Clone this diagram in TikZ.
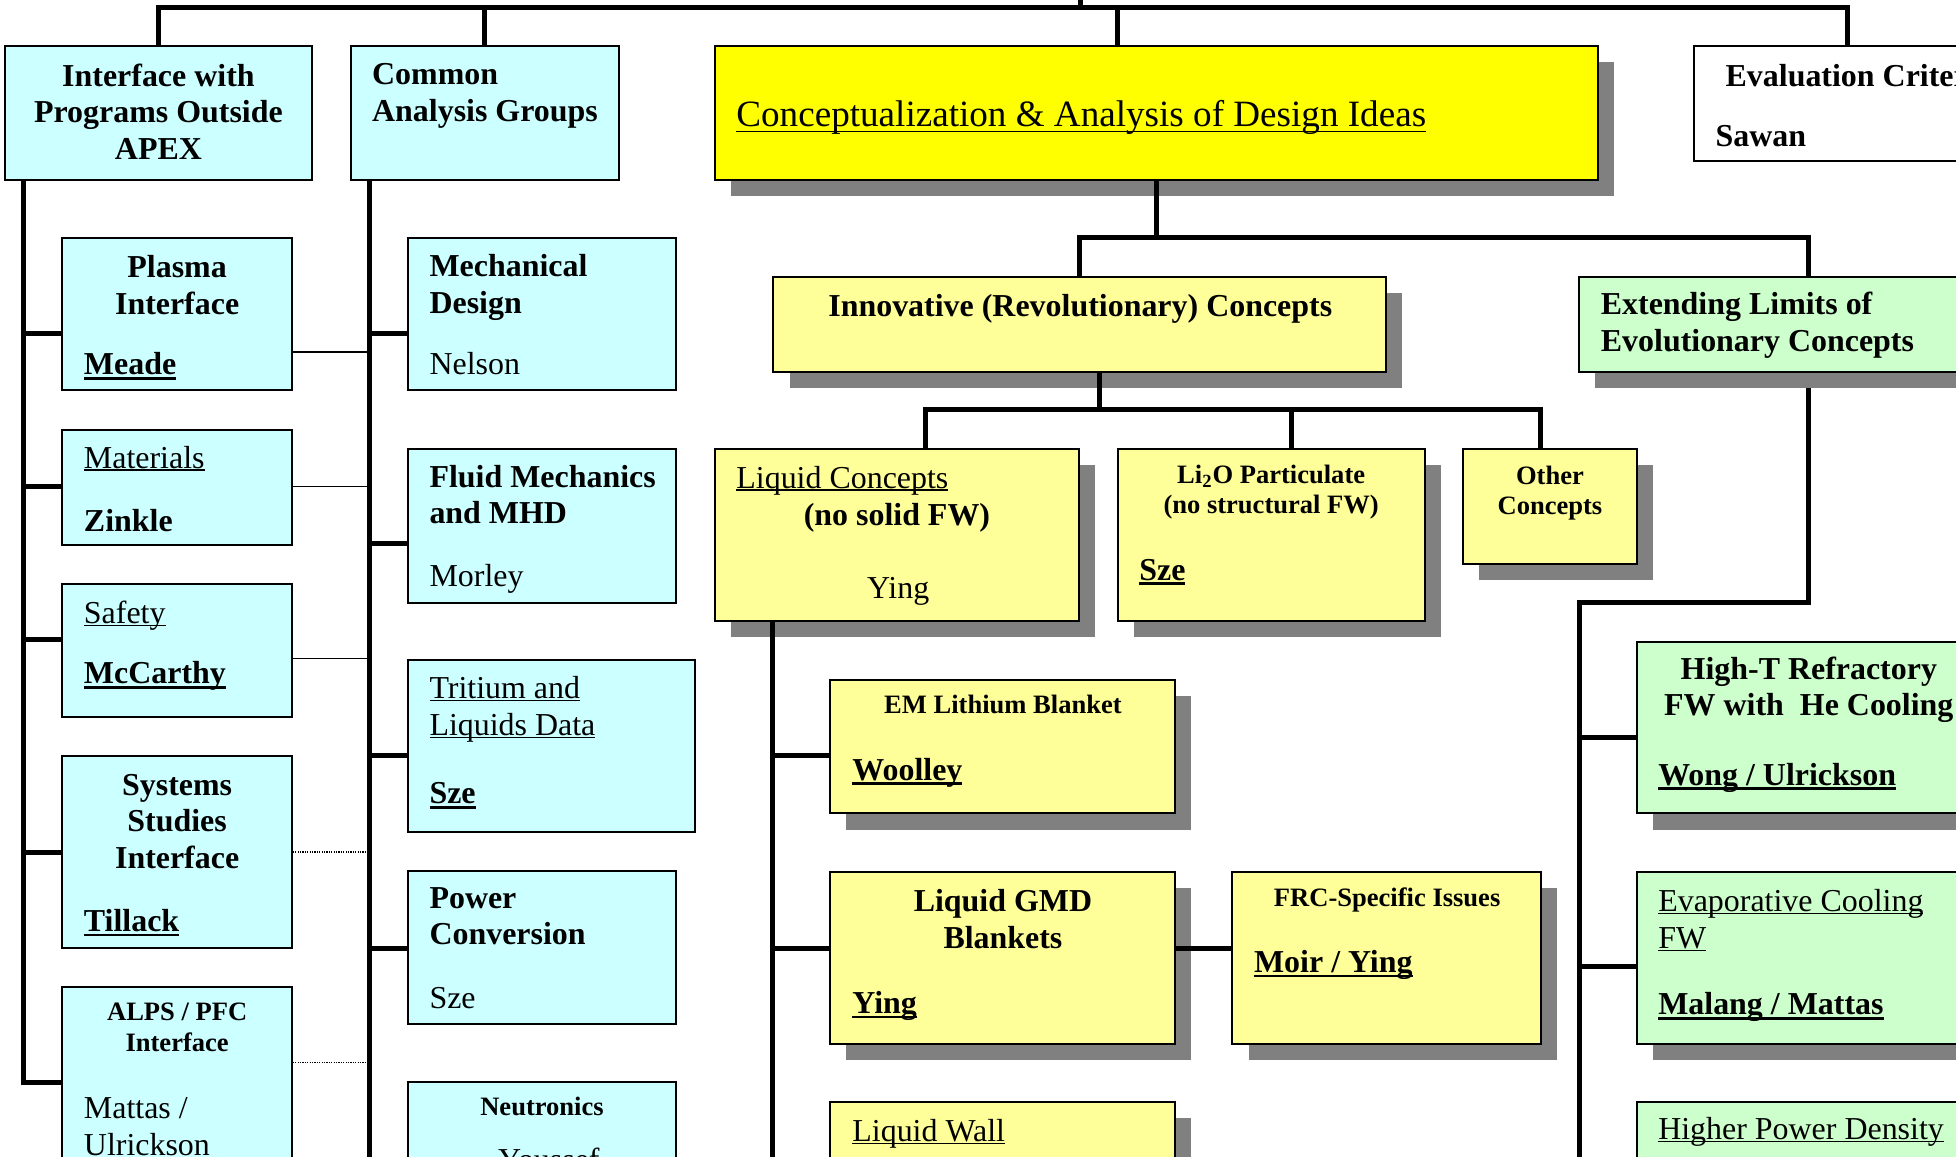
\documentclass[tikz,border=0pt]{standalone}
\usepackage{fontspec}
\setmainfont{Liberation Serif}
\usetikzlibrary{fit, shadows}

\definecolor{boxcyan}{HTML}{CCFFFF}
\definecolor{boxyellow}{HTML}{FFFF00}
\definecolor{paleyellow}{HTML}{FFFF99}
\definecolor{palegreen}{HTML}{CCFFCC}
\definecolor{shadegray}{HTML}{808080}

% underlined text: depth, thickness, text
\newsavebox{\ulinebox}
\newcommand{\ulinewith}[3]{\sbox{\ulinebox}{#3}\rlap{\rule[-#1]{\wd\ulinebox}{#2}}\usebox{\ulinebox}}
\newcommand{\ulreg}[1]{\ulinewith{1.2pt}{0.6pt}{#1}}
\newcommand{\ulbold}[1]{\ulinewith{2.3pt}{1.2pt}{\textbf{#1}}}
\newcommand{\ultitle}[1]{\ulinewith{2.9pt}{0.8pt}{#1}}

\tikzset{
    box/.style={draw, line width=1pt, inner sep=0pt},
    cyanbox/.style={box, fill=boxcyan},
    shbox/.style={box, drop shadow={shadow xshift=8.1pt, shadow yshift=-8.1pt,
        fill=shadegray, draw=none, opacity=1}},
    conn/.style={line width=2.5pt},
    link/.style={line width=0.8pt},
    dotlink/.style={line width=0.6pt, dash pattern=on 0.6pt off 0.6pt},
    lbl/.style={inner sep=0pt, font=\fontsize{16}{18.4}\selectfont},
    lblb/.style={inner sep=0pt, font=\fontsize{16}{18.4}\selectfont\bfseries},
    lbls/.style={inner sep=0pt, font=\fontsize{13.3}{15.3}\selectfont\bfseries},
    lbltitle/.style={inner sep=0pt, font=\fontsize{18.6}{21}\selectfont}
}

\begin{document}
\begin{tikzpicture}[x=0.625pt, y=-0.625pt]

    \useasboundingbox (0,0) rectangle (1568,927);
    \clip (0,0) rectangle (1568,927);

    % Top row
    \node[cyanbox, fit={(4,37) (250,144)}] (iface) {};
    \node[cyanbox, fit={(281,37) (496,144)}] (common) {};
    \node[shbox, fill=boxyellow, fit={(573,37) (1281,144)}] (concept) {};
    \node[box, fill=white, fit={(1358,37) (1604,129)}] (evalc) {};

    % Left column
    \node[cyanbox, fit={(50,191) (234,313)}] (plasma) {};
    \node[cyanbox, fit={(50,345) (234,437)}] (mater) {};
    \node[cyanbox, fit={(50,468) (234,575)}] (safety) {};
    \node[cyanbox, fit={(50,606) (234,760)}] (syst) {};
    \node[cyanbox, fit={(50,791) (234,1000)}] (alps) {};

    % Analysis groups column
    \node[cyanbox, fit={(327,191) (542,313)}] (mech) {};
    \node[cyanbox, fit={(327,360) (542,483)}] (fluid) {};
    \node[cyanbox, fit={(327,529) (557,667)}] (trit) {};
    \node[cyanbox, fit={(327,698) (542,821)}] (power) {};
    \node[cyanbox, fit={(327,867) (542,1000)}] (neut) {};

    % Concept boxes
    \node[shbox, fill=paleyellow, fit={(620,222) (1111,298)}] (innov) {};
    \node[shbox, fill=palegreen, fit={(1266,222) (1634,298)}] (ext) {};
    \node[shbox, fill=paleyellow, fit={(573,360) (865,498)}] (liq) {};
    \node[shbox, fill=paleyellow, fit={(896,360) (1142,498)}] (li2o) {};
    \node[shbox, fill=paleyellow, fit={(1173,360) (1312,452)}] (other) {};
    \node[shbox, fill=paleyellow, fit={(665,545) (942,652)}] (em) {};
    \node[shbox, fill=paleyellow, fit={(665,699) (942,837)}] (gmd) {};
    \node[shbox, fill=paleyellow, fit={(988,699) (1235,837)}] (frc) {};
    \node[shbox, fill=paleyellow, fit={(665,883) (942,1000)}] (lwall) {};
    \node[shbox, fill=palegreen, fit={(1312,515) (1590,652)}] (hight) {};
    \node[shbox, fill=palegreen, fit={(1312,699) (1590,837)}] (evap) {};
    \node[shbox, fill=palegreen, fit={(1312,883) (1590,1000)}] (hpd) {};

    % Junction points
    \coordinate (topbar) at (866,6);
    \coordinate (parent) at (866,-10);
    \coordinate (conceptin) at (896,6);
    \coordinate (midbar) at (866,190);
    \coordinate (lowbar) at (881,328);
    \coordinate (liqx) at (742,328);
    \coordinate (li2ox) at (1035,328);
    \coordinate (otherx) at (1235,328);
    \coordinate (bot) at (619,940);
    \coordinate (lc1) at (619,606);
    \coordinate (lc2) at (619,760);
    \coordinate (extdrop) at (1450,311);
    \coordinate (rsp) at (1266,483);
    \coordinate (rc1) at (1266,591);
    \coordinate (rc2) at (1266,775);
    \coordinate (s1) at (19,267);
    \coordinate (s2) at (19,390);
    \coordinate (s3) at (19,513);
    \coordinate (s4) at (19,683);
    \coordinate (s5) at (19,868);
    \coordinate (c1) at (296,267);
    \coordinate (c2) at (296,436);
    \coordinate (c3) at (296,606);
    \coordinate (c4) at (296,760);
    \coordinate (t1) at (296,282);
    \coordinate (t2) at (296,390);
    \coordinate (t3) at (296,528);
    \coordinate (t4) at (296,683);
    \coordinate (t5) at (296,852);

    % Top level lines
    \draw[conn] (topbar) -- (parent);
    \draw[conn] (iface.north) |- (topbar) -| (evalc.north);
    \draw[conn] (common.north) -- (common.north |- topbar);
    \draw[conn] (conceptin) -- (conceptin |- concept.north);

    % Under the main box
    \draw[conn] (concept.south) -- (concept.south |- midbar);
    \draw[conn] (innov.north) -- (innov.north |- midbar) -| (ext.north);
    \draw[conn] (innov.south -| lowbar) -- (lowbar);
    \draw[conn] (liqx |- liq.north) -- (liqx) -- (otherx) -- (otherx |- other.north);
    \draw[conn] (li2ox) -- (li2ox |- li2o.north);

    % Liquid concepts branch
    \draw[conn] (liq.south -| bot) -- (bot);
    \draw[conn] (lc1) -- (lc1 -| em.west);
    \draw[conn] (lc2) -- (lc2 -| gmd.west);
    \draw[conn] (lc2 -| gmd.east) -- (lc2 -| frc.west);

    % Evolutionary branch
    \draw[conn] (extdrop) |- (rsp) -- (rsp |- bot);
    \draw[conn] (rc1) -- (rc1 -| hight.west);
    \draw[conn] (rc2) -- (rc2 -| evap.west);

    % Left spines
    \draw[conn] (iface.south -| s1) -- (s5) -- (s5 -| alps.west);
    \draw[conn] (s1) -- (s1 -| plasma.west);
    \draw[conn] (s2) -- (s2 -| mater.west);
    \draw[conn] (s3) -- (s3 -| safety.west);
    \draw[conn] (s4) -- (s4 -| syst.west);
    \draw[conn] (common.south -| c1) -- (c1 |- bot);
    \draw[conn] (c1) -- (c1 -| mech.west);
    \draw[conn] (c2) -- (c2 -| fluid.west);
    \draw[conn] (c3) -- (c3 -| trit.west);
    \draw[conn] (c4) -- (c4 -| power.west);

    % Links between the two columns
    \draw[link] (t1 -| plasma.east) -- (t1);
    \draw[link] (t2 -| mater.east) -- (t2);
    \draw[link] (t3 -| safety.east) -- (t3);
    \draw[dotlink] (t4 -| syst.east) -- (t4);
    \draw[dotlink] (t5 -| alps.east) -- (t5);

    % Texts, top row (multi-line texts sit on their last line)
    \node[lblb, align=center, anchor=base] (ifaceT) at (127,127.9)
        {Interface with\\Programs Outside\\APEX};
    \node[lblb, align=left, anchor=base west] (commonT) at (298,97.4)
        {Common\\Analysis Groups};
    \node[lbltitle, anchor=base west] (conceptT) at (590,101.5)
        {\ultitle{Conceptualization \& Analysis of Design Ideas}};
    \node[lblb, anchor=base west] (evalT) at (1383,69) {Evaluation Criteria};
    \node[lblb, anchor=base west] (evalN) at (1375,117.6) {Sawan};

    % Texts, left column
    \node[lblb, align=center, anchor=base] (plasmaT) at (142,252) {Plasma\\Interface};
    \node[lbl, anchor=base west] (plasmaN) at (67,300.6) {\ulbold{Meade}};
    \node[lbl, anchor=base west] (materT) at (67,375.4) {\ulreg{Materials}};
    \node[lblb, anchor=base west] (materN) at (67,425.7) {Zinkle};
    \node[lbl, anchor=base west] (safetyT) at (67,499.7) {\ulreg{Safety}};
    \node[lbl, anchor=base west] (safetyN) at (67,548.3) {\ulbold{McCarthy}};
    \node[lblb, align=center, anchor=base] (systT) at (142,696.2)
        {Systems\\Studies\\Interface};
    \node[lbl, anchor=base west] (systN) at (67,746.8) {\ulbold{Tillack}};
    \node[lbls, align=center, anchor=base] (alpsT) at (142,842.7) {ALPS / PFC\\Interface};
    \node[lbl, align=left, anchor=base west] (alpsN) at (67,925.9) {Mattas /\\Ulrickson};

    % Texts, analysis groups
    \node[lblb, align=left, anchor=base west] (mechT) at (344,251.2) {Mechanical\\Design};
    \node[lbl, anchor=base west] (mechN) at (344,300.6) {Nelson};
    \node[lblb, align=left, anchor=base west] (fluidT) at (344,420)
        {Fluid Mechanics\\and MHD};
    \node[lbl, anchor=base west] (fluidN) at (344,469.8) {Morley};
    \node[lbl, align=left, anchor=base west] (tritT) at (344,589.7)
        {\ulreg{Tritium and}\\\ulreg{Liquids Data}};
    \node[lbl, anchor=base west] (tritN) at (344,644.5) {\ulbold{Sze}};
    \node[lblb, align=left, anchor=base west] (powerT) at (344,757.4) {Power\\Conversion};
    \node[lbl, anchor=base west] (powerN) at (344,808.3) {Sze};
    \node[lbls, anchor=base] (neutT) at (434.5,894.6) {Neutronics};
    \node[lbl, anchor=base] (neutN) at (440,938) {Youssef};

    % Texts, concepts
    \node[lblb, anchor=base] (innovT) at (866,253.8) {Innovative (Revolutionary) Concepts};
    \node[lblb, align=left, anchor=base west] (extT) at (1283,281.9)
        {Extending Limits of\\Evolutionary Concepts};
    \node[lbl, anchor=base west] (liqT) at (590,391.4) {\ulreg{Liquid Concepts}};
    \node[lblb, anchor=base] (liqS) at (719,420.9) {(no solid FW)};
    \node[lbl, anchor=base] (liqN) at (720,479.6) {Ying};
    \node[lbls, align=center, anchor=base] (li2oT) at (1019,412)
        {Li\textsubscript{2}O Particulate\\(no structural FW)};
    \node[lbl, anchor=base west] (li2oN) at (913,465) {\ulbold{Sze}};
    \node[lbls, align=center, anchor=base] (otherT) at (1242.5,412.5) {Other\\Concepts};
    \node[lbls, anchor=base] (emT) at (804,571.8) {EM Lithium Blanket};
    \node[lbl, anchor=base west] (emN) at (683,625.3) {\ulbold{Woolley}};
    \node[lblb, align=center, anchor=base] (gmdT) at (804,760.2) {Liquid GMD\\Blankets};
    \node[lbl, anchor=base west] (gmdN) at (683,812.3) {\ulbold{Ying}};
    \node[lbls, anchor=base] (frcT) at (1112,726.3) {FRC-Specific Issues};
    \node[lbl, anchor=base west] (frcN) at (1005,779.7) {\ulbold{Moir / Ying}};
    \node[lbl, anchor=base west] (lwallT) at (683,915) {\ulreg{Liquid Wall}};
    \node[lblb, align=center, anchor=base] (hightT) at (1450,573.9)
        {High-T Refractory\\FW with\ \ He Cooling};
    \node[lbl, anchor=base west] (hightN) at (1329,629.3) {\ulbold{Wong / Ulrickson}};
    \node[lbl, align=left, anchor=base west] (evapT) at (1329,760.2)
        {\ulreg{Evaporative Cooling}\\\ulreg{FW}};
    \node[lbl, anchor=base west] (evapN) at (1329,813.6) {\ulbold{Malang / Mattas}};
    \node[lbl, anchor=base west] (hpdT) at (1329,913.8) {\ulreg{Higher Power Density}};

\end{tikzpicture}
\end{document}
